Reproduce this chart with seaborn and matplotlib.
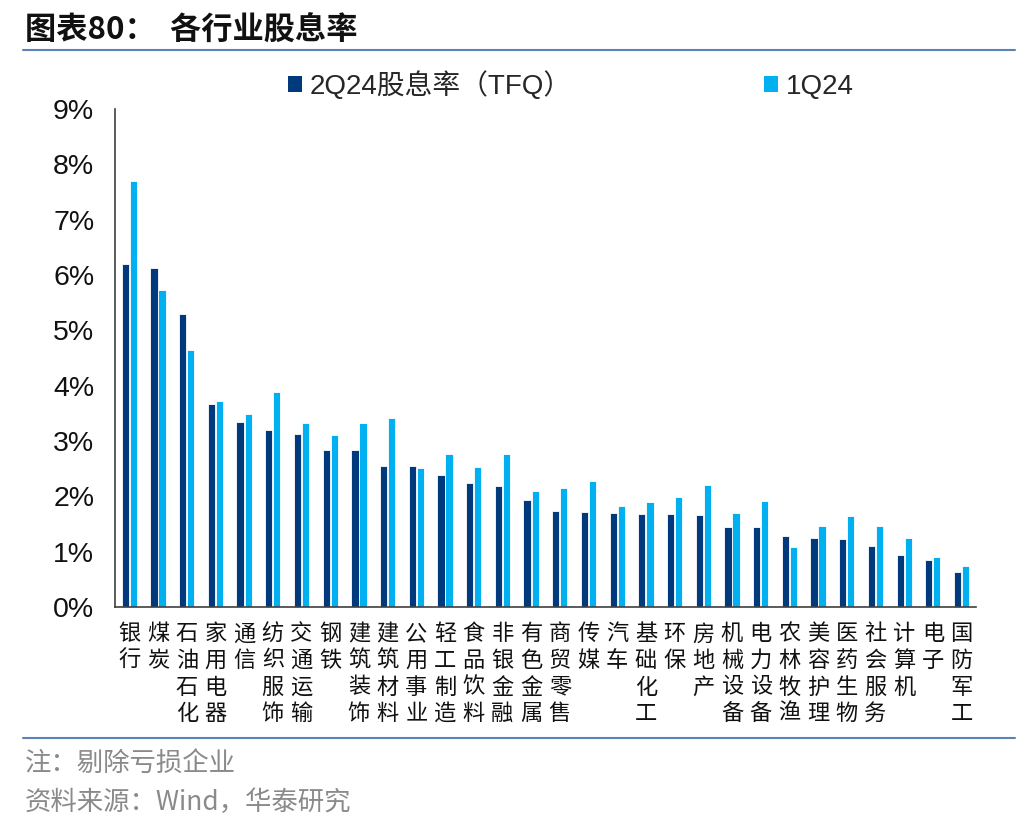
import numpy as np
import pandas as pd
import matplotlib
matplotlib.use("Agg")
import matplotlib.pyplot as plt
from matplotlib.patches import Patch
from matplotlib.lines import Line2D
from matplotlib.ticker import FuncFormatter
import seaborn as sns

industries = ["银行", "煤炭", "石油石化", "家用电器", "通信", "纺织服饰", "交通运输", "钢铁",
              "建筑装饰", "建筑材料", "公用事业", "轻工制造", "食品饮料", "非银金融", "有色金属",
              "商贸零售", "传媒", "汽车", "基础化工", "环保", "房地产", "机械设备", "电力设备",
              "农林牧渔", "美容护理", "医药生物", "社会服务", "计算机", "电子", "国防军工"]
yield_2q24 = [6.19, 6.12, 5.30, 3.66, 3.35, 3.20, 3.12, 2.84, 2.83, 2.54, 2.54, 2.39, 2.25, 2.19, 1.93,
              1.73, 1.71, 1.70, 1.69, 1.68, 1.66, 1.45, 1.45, 1.29, 1.25, 1.23, 1.10, 0.94, 0.85, 0.63]
yield_1q24 = [7.70, 5.73, 4.65, 3.73, 3.48, 3.88, 3.32, 3.11, 3.33, 3.41, 2.51, 2.77, 2.53, 2.76, 2.09,
              2.15, 2.27, 1.82, 1.89, 1.99, 2.21, 1.70, 1.91, 1.08, 1.47, 1.65, 1.47, 1.25, 0.90, 0.74]
series_names = ["2Q24股息率（TFQ）", "1Q24"]
colors = ["#003A7D", "#00B0F0"]

df = pd.DataFrame({
    "industry": industries * 2,
    "value": yield_2q24 + yield_1q24,
    "series": [series_names[0]] * len(industries) + [series_names[1]] * len(industries),
})

sns.set_style("white")
plt.rcParams["font.family"] = ["Noto Sans CJK SC", "DejaVu Sans"]

fig = plt.figure(figsize=(10.36, 8.32), dpi=100)
ax = fig.add_axes([0.111, 0.2704, 0.831, 0.5986])

sns.barplot(data=df, x="industry", y="value", hue="series", palette=colors, saturation=1,
            width=0.56, gap=0.1, edgecolor="white", linewidth=0.6,
            order=industries, hue_order=series_names, ax=ax, legend=False)

ax.set_xlim(-0.5, len(industries) - 0.5)
ax.set_ylim(0, 9)
ax.set_yticks(np.arange(0, 10, 1))
ax.yaxis.set_major_formatter(FuncFormatter(lambda v, p: f"{int(round(v))}%"))
ax.set_xlabel("")
ax.set_ylabel("")

ax.set_xticks(np.arange(len(industries)))
ax.set_xticklabels(["\n".join(n) for n in industries], va="top", linespacing=1.2)
ax.set_xticks(np.arange(-0.5, len(industries), 1), minor=True)
ax.tick_params(axis="x", which="major", length=0, pad=11, labelsize=16, labelcolor="#111111")
ax.tick_params(axis="x", which="minor", length=6, width=1.2, color="#404040", direction="out")
ax.tick_params(axis="y", which="major", length=5, width=1.2, color="#404040", direction="out",
               labelsize=20.5, pad=10, labelcolor="#111111")
for lab in ax.get_yticklabels():
    lab.set_fontfamily(["Liberation Sans"])

for s in ["top", "right"]:
    ax.spines[s].set_visible(False)
for s in ["left", "bottom"]:
    ax.spines[s].set_color("#404040")
    ax.spines[s].set_linewidth(1.2)

handles = [Patch(facecolor=c, edgecolor="none") for c in colors]
leg = fig.legend(handles, series_names, loc="center", bbox_to_anchor=(0.551, 0.897), ncol=2,
                 frameon=False, handlelength=0.5, handleheight=0.5,
                 handletextpad=0.3, columnspacing=6.9,
                 prop={"family": ["Liberation Sans", "Noto Sans CJK SC"], "size": 20})

fig.text(0.024, 0.963, "图表80：  各行业股息率", fontsize=22.5, fontweight="bold",
         color="#111111", va="center", ha="left")
fig.add_artist(Line2D([0.022, 0.98], [0.94, 0.94], color="#5A82B4", linewidth=1.5))
fig.add_artist(Line2D([0.022, 0.98], [0.113, 0.113], color="#5A82B4", linewidth=1.5))
fig.text(0.024, 0.083, "注：剔除亏损企业", fontsize=19, color="#8A8A8A", va="center", ha="left")
fig.text(0.024, 0.036, "资料来源：Wind，华泰研究", fontsize=19, color="#8A8A8A", va="center", ha="left",
         family=["Noto Sans CJK SC", "DejaVu Sans"])

fig.savefig("out.png", dpi=100)
